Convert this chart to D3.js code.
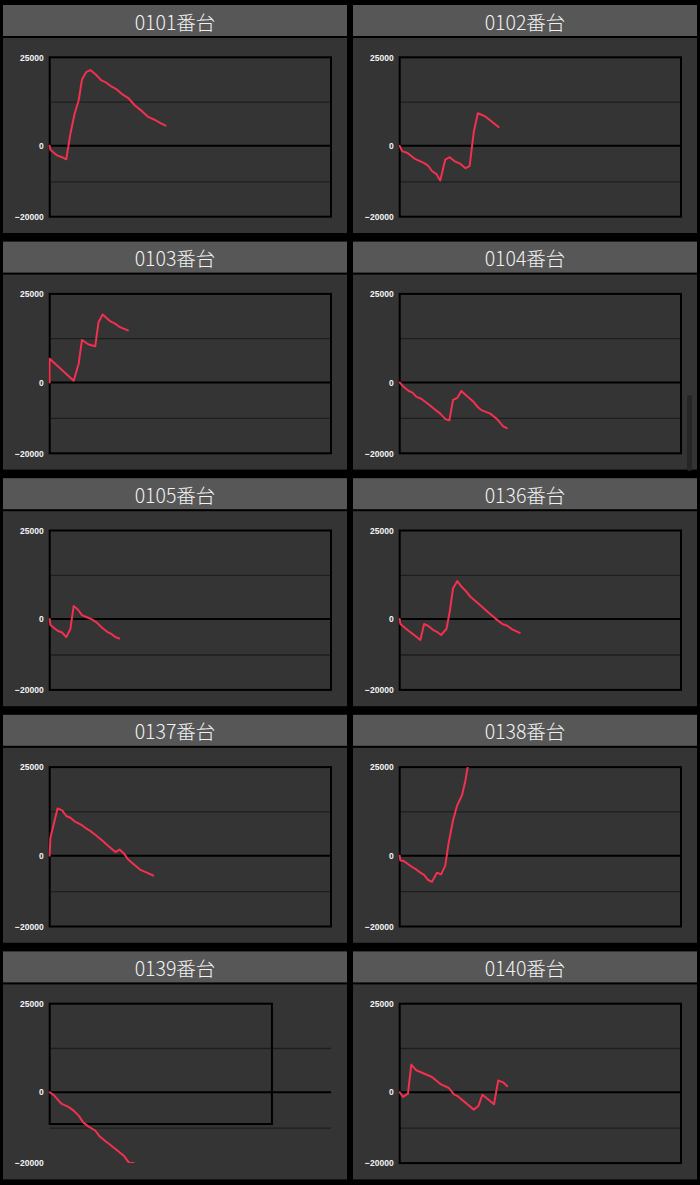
<!DOCTYPE html>
<html>
<head>
<meta charset="utf-8">
<script src="https://cdn.jsdelivr.net/npm/d3@7"></script>
<style>
  html, body { margin: 0; padding: 0; background: #000; }
  svg { display: block; }
</style>
</head>
<body>
<svg id="chart" width="700" height="1185"></svg>
<script>
// ---- data: [position along x (sample units), coin difference] ----
const titles = ["0101番台", "0102番台", "0103番台", "0104番台", "0105番台",
                "0136番台", "0137番台", "0138番台", "0139番台", "0140番台"];
const yTickLabels = [25000, 0, -20000];
const yGridValues = [12500, -10000];
const xDomain = [0, 68];
const yDomain = [-20000, 25000];

const s0101 = [[0,0],[0.16,-1100],[1.8,-2700],[3.0,-3200],[4.0,-3800],[5.0,3400],[6.0,9000],[7.0,12800],[7.8,18700],[8.8,20800],[9.8,21400],[11.0,20300],[12.6,18400],[13.6,17900],[15.0,16700],[16.0,16100],[17.4,14700],[19.0,13500],[20.6,11400],[22.3,9800],[23.9,8100],[25.5,7300],[26.8,6400],[28.0,5700]];
const s0102 = [[0,0],[0.56,-1500],[1.9,-2000],[3.7,-3700],[5.8,-4800],[6.8,-5500],[7.8,-7100],[8.9,-8000],[9.8,-9800],[11.0,-3900],[12.1,-3200],[13.2,-4300],[14.7,-5100],[15.9,-6300],[16.9,-5700],[17.9,3900],[18.9,9200],[20.7,8300],[22.3,6800],[23.9,5300]];
const s0103 = [[0,0],[0,6700],[5.8,500],[7.0,5300],[7.8,12000],[9.4,10700],[11.0,10200],[11.8,17000],[12.8,19200],[14.6,17300],[15.8,16600],[17.0,15600],[18.9,14700]];
const s0104 = [[0,0],[1.0,-1300],[2.2,-2400],[3.0,-2800],[4.0,-4000],[5.2,-4600],[6.8,-6000],[8.6,-7700],[9.8,-8800],[11.0,-10300],[12.0,-10700],[12.9,-4900],[13.9,-4400],[14.9,-2400],[16.3,-3900],[17.7,-5300],[18.9,-7000],[19.9,-7900],[21.9,-8800],[23.5,-10300],[25.0,-12400],[25.9,-12900]];
const s0105 = [[0,0],[0.16,-1700],[1.9,-3300],[3.0,-3800],[4.0,-5100],[5.0,-2800],[5.8,3700],[6.8,2700],[7.8,1100],[9.0,500],[10.2,-100],[11.4,-1000],[12.6,-2400],[13.9,-3600],[14.9,-4200],[15.9,-5100],[16.8,-5500]];
const s0136 = [[0,0],[0.16,-1400],[1.9,-3100],[3.8,-4800],[5.0,-5900],[5.9,-1400],[7.0,-2000],[8.1,-3100],[9.0,-3600],[10.0,-4500],[11.3,-2800],[12.1,2100],[12.9,8700],[13.9,10700],[14.9,9200],[15.9,8000],[17.1,6300],[18.3,5100],[19.9,3500],[21.5,1800],[23.1,200],[24.8,-1400],[26.0,-1900],[27.2,-2900],[29.0,-3900]];
const s0137 = [[0,0],[0.16,5000],[1.9,13300],[3.0,12800],[4.0,11200],[5.0,10700],[6.0,9700],[7.8,8600],[8.9,7600],[9.8,7000],[11.0,5900],[12.7,4300],[14.3,2600],[15.9,1000],[16.9,1700],[17.9,700],[18.9,-1000],[20.3,-2400],[21.9,-4000],[23.5,-4800],[25.0,-5600]];
const s0138 = [[0,0],[0.16,-1400],[1.0,-1500],[1.9,-2300],[3.0,-3200],[4.0,-3900],[5.0,-4800],[5.9,-5400],[6.8,-6800],[7.8,-7400],[9.0,-4800],[10.0,-5300],[11.0,-2900],[11.8,3400],[12.9,10000],[13.9,14200],[15.1,17200],[15.9,21300],[16.5,25500],[17.0,28000]];
const s0139 = [[0,0],[1.0,-800],[2.8,-3200],[4.6,-4200],[5.8,-5200],[7.0,-6600],[8.1,-8500],[9.4,-9700],[11.0,-10800],[12.1,-12500],[13.9,-14200],[15.9,-16000],[17.9,-17900],[19.1,-19800],[19.6,-20000],[20.3,-20000]];
const s0140 = [[0,0],[0.8,-1300],[2.0,-400],[2.8,7800],[4.0,6200],[7.8,4300],[10.0,2200],[11.9,1200],[13.1,-600],[13.9,-1000],[17.9,-4900],[19.0,-3900],[20.0,-700],[22.8,-3400],[23.8,3300],[25.0,2800],[26.0,1700]];

const seriesList = [s0101, s0102, s0103, s0104, s0105, s0136, s0137, s0138, s0139, s0140];

// ---- layout / style ----
const colX = [3, 353];
const panelW = 344;
const rowTop = i => 5 + i * 236.6;
const headerH = 31;
const bodyTop = 33, bodyBottom = 228;
const plotLeftOff = 46.7, plotRightOff = 328;
const plotTopOff = 52.3, plotBottomOff = 211.7;
// panel 0139 draws its frame shorter (as in the reference)
const frameScale = {8: {w: 0.79, h: 0.755}};

const svg = d3.select("#chart");
svg.append("rect").attr("width", 700).attr("height", 1185).attr("fill", "#000");
const defs = svg.append("defs");

seriesList.forEach((data, i) => {
  const col = i % 2, row = Math.floor(i / 2);
  const px = colX[col], py = rowTop(row);
  const g = svg.append("g");

  // header
  g.append("rect").attr("x", px).attr("y", py).attr("width", panelW).attr("height", headerH)
    .attr("fill", "#575757");
  g.append("text").attr("x", px + panelW / 2).attr("y", py + headerH / 2 + 0.5)
    .attr("text-anchor", "middle").attr("dominant-baseline", "central")
    .attr("font-family", "'Noto Sans CJK JP', 'Noto Sans', sans-serif")
    .attr("font-weight", 300).attr("font-size", 19.5).attr("fill", "#f2f2f2")
    .text(titles[i]);

  // body
  g.append("rect").attr("x", px).attr("y", py + bodyTop).attr("width", panelW)
    .attr("height", bodyBottom - bodyTop).attr("fill", "#343434");

  const left = px + plotLeftOff, right = px + plotRightOff;
  const top = py + plotTopOff, bottom = py + plotBottomOff;
  const x = d3.scaleLinear().domain(xDomain).range([left, right]);
  const y = d3.scaleLinear().domain(yDomain).range([bottom, top]);

  // gridlines
  const grid = g.append("g").attr("transform", `translate(${left},0)`)
    .call(d3.axisLeft(y).tickValues(yGridValues).tickSize(-(right - left)).tickFormat(""));
  grid.select(".domain").remove();
  grid.selectAll(".tick line").attr("stroke", "#1e1e1e").attr("stroke-width", 1.3);

  // zero line
  g.append("line").attr("x1", left).attr("x2", right).attr("y1", y(0)).attr("y2", y(0))
    .attr("stroke", "#000").attr("stroke-width", 2);

  // frame
  const fs = frameScale[i] || {w: 1, h: 1};
  g.append("rect").attr("x", left).attr("y", top)
    .attr("width", (right - left) * fs.w).attr("height", (bottom - top) * fs.h)
    .attr("fill", "none").attr("stroke", "#000").attr("stroke-width", 2);

  // y labels
  const ax = g.append("g").attr("transform", `translate(${left},0)`)
    .call(d3.axisLeft(y).tickValues(yTickLabels).tickSize(0).tickPadding(6).tickFormat(d3.format("d")));
  ax.select(".domain").remove();
  ax.selectAll("text").attr("fill", "#f4f4f4").attr("font-size", 8.5)
    .attr("font-weight", "bold").attr("font-family", "'Liberation Sans', Arial, sans-serif")
    .attr("textLength", null);

  // clip
  const cid = "clip" + i;
  defs.append("clipPath").attr("id", cid).append("rect")
    .attr("x", left - 2).attr("y", top).attr("width", right - left + 4).attr("height", bottom - top);

  // line
  const line = d3.line().x(d => x(d[0])).y(d => y(d[1]));
  g.append("path").datum(data).attr("d", line).attr("clip-path", `url(#${cid})`)
    .attr("fill", "none").attr("stroke", "#f2304f").attr("stroke-width", 2)
    .attr("stroke-linejoin", "round").attr("stroke-linecap", "round");
});

// scroll indicator
svg.append("rect").attr("x", 687).attr("y", 395).attr("width", 5).attr("height", 76)
  .attr("rx", 2.5).attr("fill", "#262626");
</script>
</body>
</html>
